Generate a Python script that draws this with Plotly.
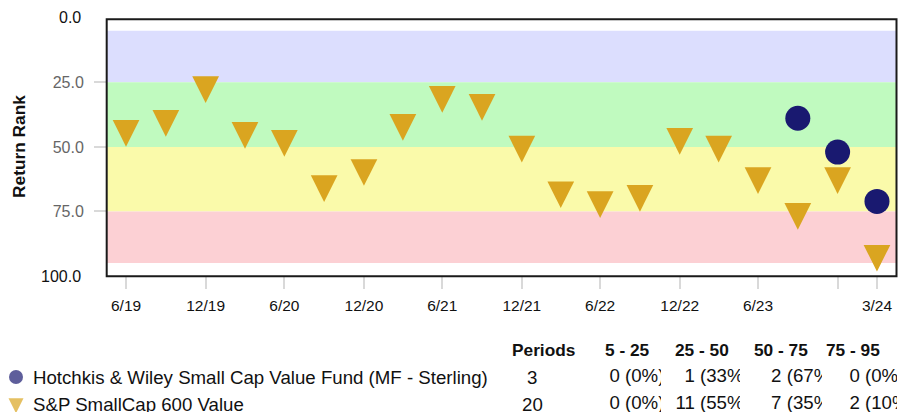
import plotly.graph_objects as go

W, H = 900, 412

# Quarter-end observation dates and percentile return ranks
quarters = ["2019-06-30", "2019-09-30", "2019-12-31", "2020-03-31", "2020-06-30",
            "2020-09-30", "2020-12-31", "2021-03-31", "2021-06-30", "2021-09-30",
            "2021-12-31", "2022-03-31", "2022-06-30", "2022-09-30", "2022-12-31",
            "2023-03-31", "2023-06-30", "2023-09-30", "2023-12-31", "2024-03-31"]
benchmark_rank = [43.0, 39.2, 26.1, 43.8, 46.9, 64.4, 58.2, 40.7, 29.9, 33.0,
                  49.1, 66.8, 70.6, 68.2, 46.1, 49.1, 61.3, 75.2, 61.3, 91.4]
fund_dates = ["2023-09-30", "2023-12-31", "2024-03-31"]
fund_rank = [38.9, 52.0, 71.1]

fund_name = "Hotchkis & Wiley Small Cap Value Fund (MF - Sterling)"
bench_name = "S&P SmallCap 600 Value"

# Percentile bands
band_edges = [5, 25, 50, 75, 95]
band_colors = ["#DCDEFE", "#C0FABF", "#FAFAAA", "#FCD0D4"]

tick_dates = ["2019-06-30", "2019-12-31", "2020-06-30", "2020-12-31", "2021-06-30",
              "2021-12-31", "2022-06-30", "2022-12-31", "2023-06-30", "2023-12-31",
              "2024-03-31"]
tick_text = ["6/19", "12/19", "6/20", "12/20", "6/21", "12/21", "6/22", "12/22",
             "6/23", "", "3/24"]

FUND_COLOR = "#191970"
BENCH_COLOR = "#DAA520"
INK = "#111111"
FONT = "Liberation Sans, Arial, sans-serif"
TXT = 18.67


def fx(px):
    return px / W


def fy(py):
    return 1 - py / H


# downward triangle, centred on its centroid
TRI = 26.7
TRI_SHIFT = TRI * 2 / 3

fig = go.Figure()

fig.add_trace(go.Scatter(
    x=fund_dates, y=fund_rank, mode="markers", name=fund_name,
    marker=dict(symbol="circle", size=25, color=FUND_COLOR, line=dict(width=0)),
    hoverinfo="skip", showlegend=False))
fig.add_trace(go.Scatter(
    x=quarters, y=benchmark_rank, mode="markers", name=bench_name,
    marker=dict(symbol="arrow-down", size=TRI, color=BENCH_COLOR,
                standoff=TRI_SHIFT, line=dict(width=0)),
    hoverinfo="skip", showlegend=False))

for lo, hi, col in zip(band_edges[:-1], band_edges[1:], band_colors):
    fig.add_shape(type="rect", xref="x domain", x0=0, x1=1, yref="y", y0=lo, y1=hi,
                  fillcolor=col, line=dict(width=0), layer="below")

# plot frame
fig.add_shape(type="rect", xref="paper", yref="paper",
              x0=fx(106.7), x1=fx(896.5), y0=fy(276.2), y1=fy(19.2),
              line=dict(color="#1a1a1a", width=2), fillcolor="rgba(0,0,0,0)",
              layer="above")

annotations = []
# y-axis end labels and title
for v in (0, 100):
    annotations.append(dict(x=fx(83), xref="paper", xanchor="right", y=v, yref="y",
                            yanchor="middle", text=f"{v:.1f}", showarrow=False,
                            font=dict(size=16, color=INK, family=FONT)))
annotations.append(dict(x=fx(19), xref="paper", xanchor="center", y=0.5,
                        yref="y domain", yanchor="middle",
                        text="<b>Return Rank</b>", textangle=-90, showarrow=False,
                        font=dict(size=17.3, color=INK, family=FONT)))

# ---- summary table below the chart ----
series = [(fund_name, fund_rank), (bench_name, benchmark_rank)]
row_y = [377, 404]
band_labels = [f"{lo} - {hi}" for lo, hi in zip(band_edges[:-1], band_edges[1:])]

header_x = [543, 627, 702, 781, 853]
for x, t in zip(header_x, ["Periods"] + band_labels):
    annotations.append(dict(x=fx(x), xref="paper", y=fy(350), yref="paper",
                            xanchor="center", yanchor="middle", text=f"<b>{t}</b>",
                            showarrow=False, font=dict(size=17.3, color=INK, family=FONT)))

for (name, vals), ry in zip(series, row_y):
    annotations.append(dict(x=fx(31), xref="paper", y=fy(ry), yref="paper",
                            xanchor="left", yanchor="middle", text=name, showarrow=False,
                            font=dict(size=TXT, color=INK, family=FONT)))
    annotations.append(dict(x=fx(532), xref="paper", y=fy(ry), yref="paper",
                            xanchor="center", yanchor="middle", text=str(len(vals)),
                            showarrow=False, font=dict(size=TXT, color=INK, family=FONT)))

# band counts per series
counts = []
for _, vals in series:
    row = []
    for lo, hi in zip(band_edges[:-1], band_edges[1:]):
        c = sum(1 for v in vals if lo <= v < hi)
        row.append((c, int(100 * c / len(vals) + 0.5)))
    counts.append(row)

# each band column is its own clipped cell
col_left = [580, 661, 740, 822]
col_right = [661, 740, 822, 897]
paren_x = [625, 700, 786.7, 865]
space_w = 0.278 * TXT

layout_axes = {}
for j in range(4):
    xa = f"x{j + 3}"
    layout_axes[f"xaxis{j + 3}"] = dict(domain=[fx(col_left[j]), fx(col_right[j])],
                                        range=[col_left[j], col_right[j]], visible=False,
                                        anchor="y2", fixedrange=True)
    xs, ys, txt, pos = [], [], [], []
    for i, ry in enumerate(row_y):
        c, p = counts[i][j]
        xs += [paren_x[j] - space_w, paren_x[j]]
        ys += [ry, ry]
        txt += [str(c), f"({p}%)"]
        pos += ["middle left", "middle right"]
    fig.add_trace(go.Scatter(x=xs, y=ys, xaxis=xa, yaxis="y2", mode="text", text=txt,
                             textposition=pos, cliponaxis=True, hoverinfo="skip",
                             showlegend=False,
                             textfont=dict(size=TXT, color=INK, family=FONT)))

# legend symbols
LEG_TRI = 15
fig.add_trace(go.Scatter(
    x=[16, 16], y=[377, 403.3], xaxis="x7", yaxis="y2", mode="markers",
    marker=dict(symbol=["circle", "arrow-down"], size=[14, LEG_TRI],
                color=[FUND_COLOR, BENCH_COLOR], standoff=[0, LEG_TRI * 2 / 3],
                line=dict(width=0)),
    cliponaxis=False, hoverinfo="skip", showlegend=False))

fig.update_layout(
    width=W, height=H,
    margin=dict(l=0, r=0, t=0, b=0),
    paper_bgcolor="white", plot_bgcolor="white",
    showlegend=False,
    font=dict(family=FONT, color=INK),
    xaxis=dict(domain=[fx(107), fx(896)], type="date",
               range=["2019-05-17", "2024-05-14"],
               tickvals=tick_dates, ticktext=tick_text,
               ticks="outside", ticklen=12, tickwidth=2, tickcolor="#D9D9D9",
               ticklabelstandoff=3,
               tickfont=dict(size=15.5, color=INK, family=FONT),
               showline=False, showgrid=False, zeroline=False, automargin=False,
               fixedrange=True),
    yaxis=dict(domain=[fy(276), fy(17.8)], range=[100, 0],
               tickvals=[25, 50, 75], ticktext=["25.0", "50.0", "75.0"],
               ticks="outside", ticklen=12, tickwidth=2, tickcolor="#D9D9D9",
               ticklabelstandoff=7,
               tickfont=dict(size=16, color="#666", family=FONT),
               showline=False, showgrid=False, zeroline=False, automargin=False,
               fixedrange=True),
    yaxis2=dict(domain=[0, fy(360)], range=[H, 360], visible=False,
                anchor="x3", fixedrange=True),
    xaxis7=dict(domain=[0, fx(100)], range=[0, 100], visible=False,
                anchor="y2", fixedrange=True),
    annotations=annotations,
    **layout_axes,
)

fig.write_html("out.html", config={"displayModeBar": False})
